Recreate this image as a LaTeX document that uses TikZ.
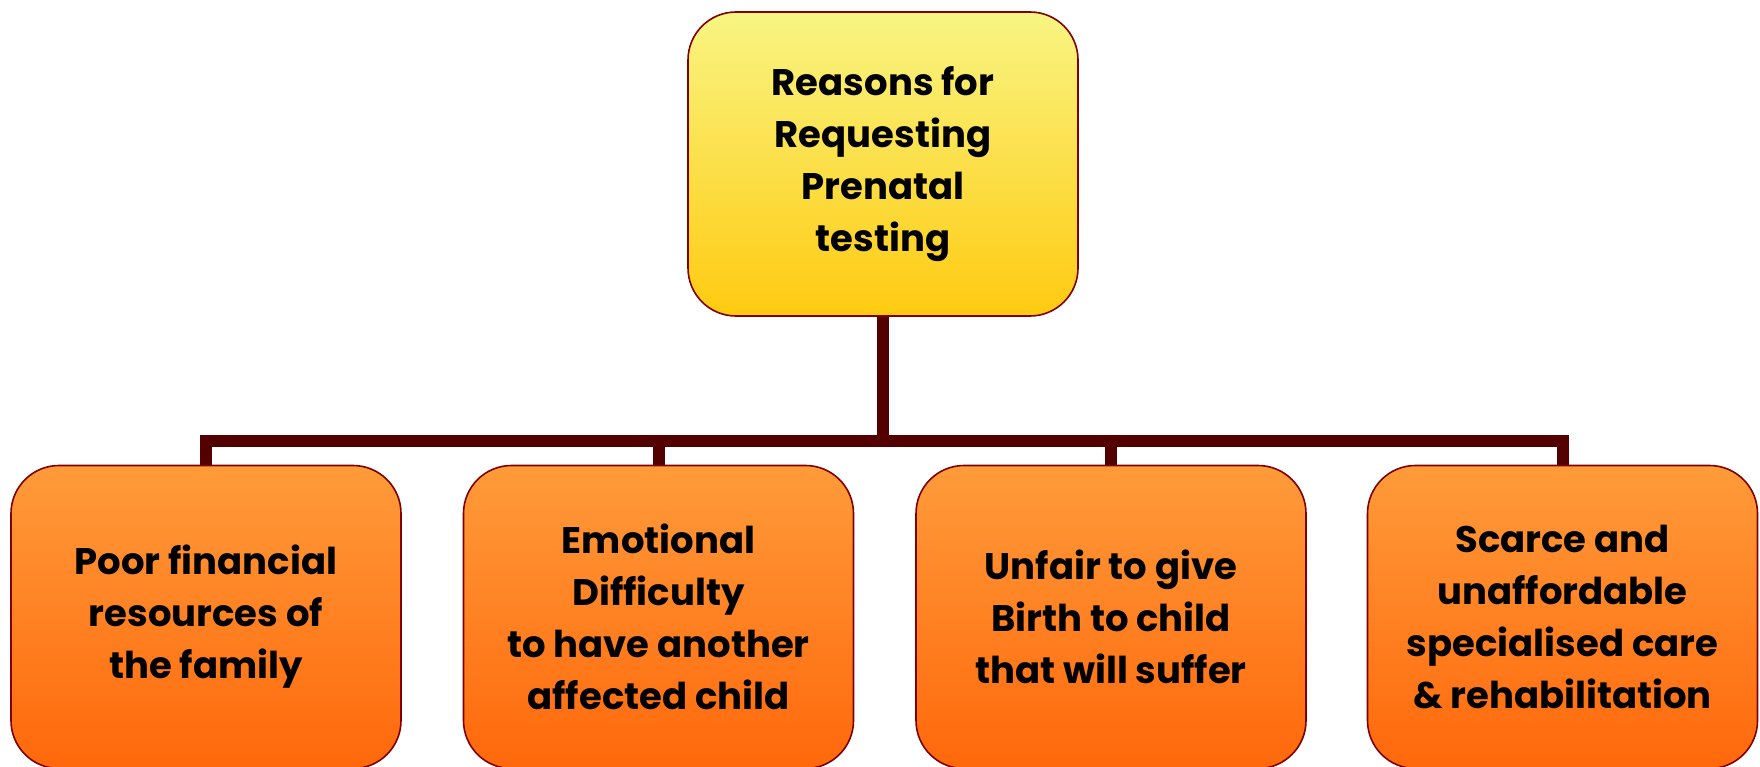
\documentclass[tikz,border=0pt]{standalone}
\usepackage{fontspec}
\setmainfont{Poppins}
\definecolor{topA}{HTML}{F8F583}
\definecolor{topB}{HTML}{FFCA10}
\definecolor{botA}{HTML}{FF9B3A}
\definecolor{botB}{HTML}{FF680B}
\definecolor{edge}{HTML}{800000}
\definecolor{conncol}{HTML}{550000}
\tikzset{
  box/.style={draw=edge, line width=1.6pt, rounded corners=48pt, minimum width=390pt,
    align=center, inner sep=0pt, font=\fontsize{37}{52}\selectfont\bfseries, text=black},
  topbox/.style={box, minimum height=304pt, top color=topA, bottom color=topB},
  botbox/.style={box, minimum height=303pt, top color=botA, bottom color=botB},
  conn/.style={draw=conncol, line width=12pt, line join=miter}
}
\begin{document}
\begin{tikzpicture}[x=1pt,y=-1pt]
\useasboundingbox (0,0) rectangle (1760,767);
\coordinate (bus) at (883,441);
\node[topbox] (top) at (883,164) {Reasons for\\Requesting\\Prenatal\\testing};
\node[botbox] (b1) at (206,617) {Poor financial\\resources of\\the family};
\node[botbox] (b2) at (658.5,617) {Emotional\\Difficulty\\to have another\\affected child};
\node[botbox] (b3) at (1111,617) {Unfair to give\\Birth to child\\that will suffer};
\node[botbox] (b4) at (1562.5,617) {Scarce and\\unaffordable\\specialised care\\\& rehabilitation};
\draw[conn] (top.south) -- (bus);
\draw[conn] (b1.north) -- (b1.north |- bus) -- (b4.north |- bus) -- (b4.north);
\draw[conn] (b2.north) -- (b2.north |- bus);
\draw[conn] (b3.north) -- (b3.north |- bus);
\end{tikzpicture}
\end{document}
